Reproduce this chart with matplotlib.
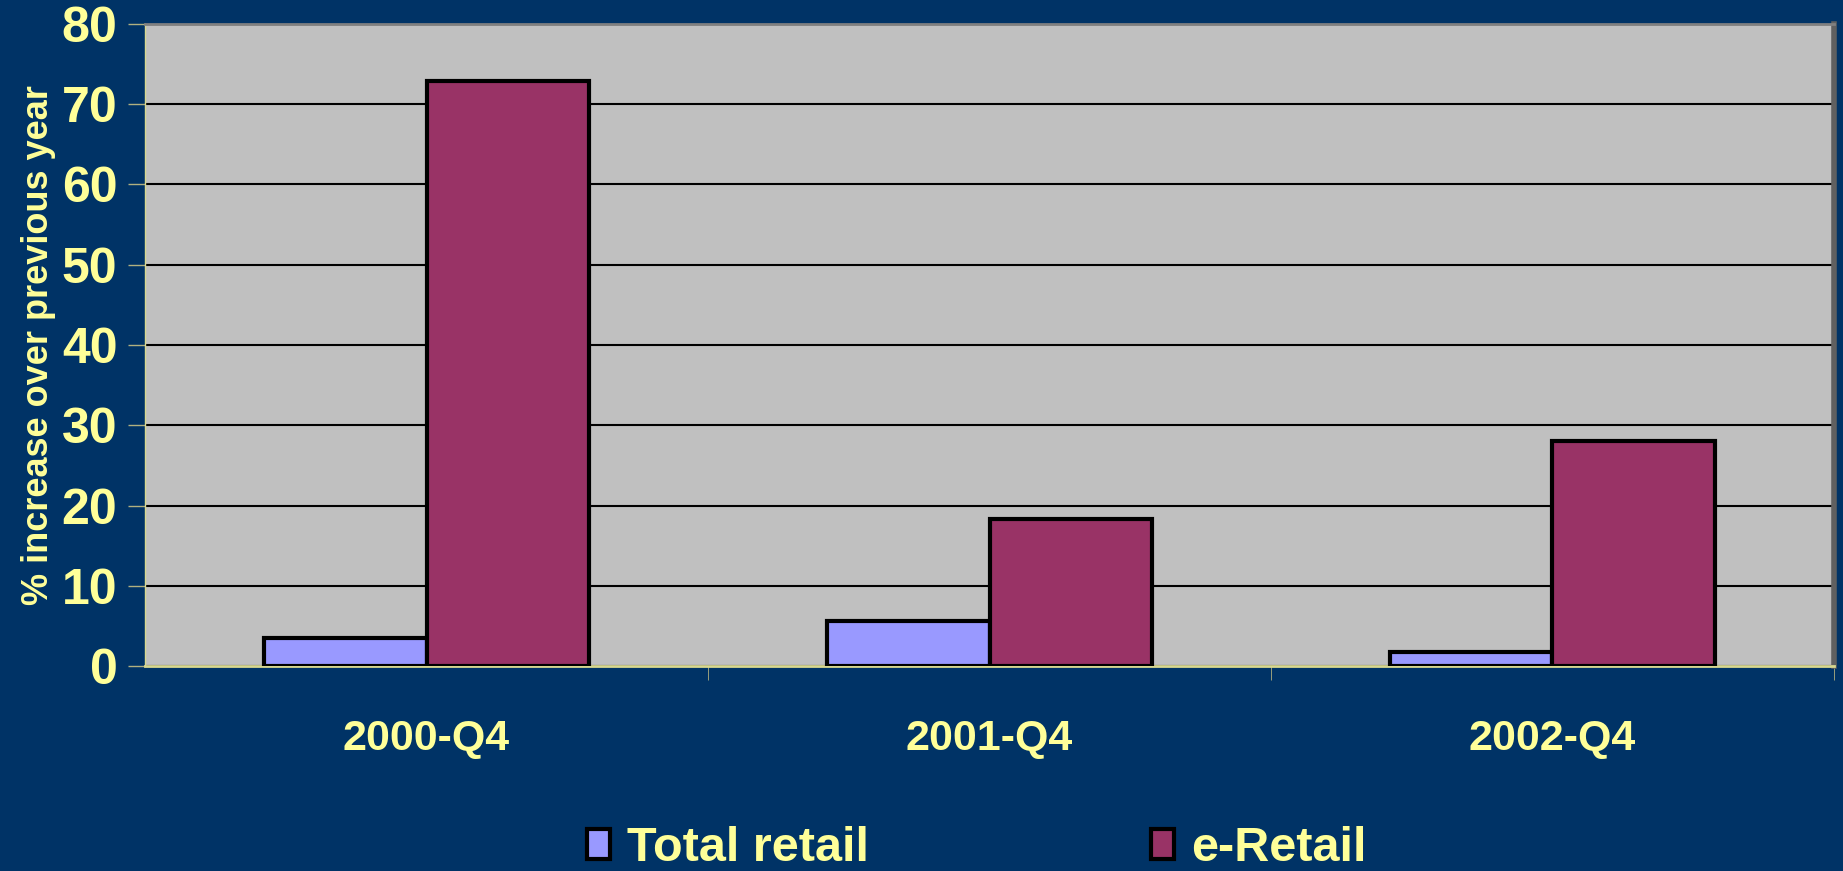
import numpy as np
import matplotlib.pyplot as plt
from matplotlib.ticker import FixedLocator

# data
quarters = ['2000-Q4', '2001-Q4', '2002-Q4']
total_retail = [3.5, 5.6, 1.8]
e_retail = [72.8, 18.4, 28.1]

navy = '#003366'
yellow = '#FFFF99'

plt.rcParams['font.family'] = ['Liberation Sans', 'DejaVu Sans']
plt.rcParams['font.weight'] = 'bold'

fig = plt.figure(figsize=(18.43, 8.71), dpi=100, facecolor=navy)
ax = fig.add_axes([0.0787, 0.2348, 0.9164, 0.7382])
ax.set_facecolor('#C0C0C0')

x = np.arange(len(quarters))
w = 0.288
ax.bar(x - w / 2, total_retail, w, color='#9999FF', edgecolor='black', linewidth=3,
       label='Total retail', zorder=3)
ax.bar(x + w / 2, e_retail, w, color='#993366', edgecolor='black', linewidth=3,
       label='e-Retail', zorder=3)

ax.set_xlim(-0.5, 2.5)
ax.set_ylim(0, 80)
ax.set_yticks(range(0, 81, 10))
ax.yaxis.grid(True, color='black', linewidth=1.5, zorder=1)

ax.set_xticks(x)
ax.set_xticklabels(quarters)
ax.xaxis.set_minor_locator(FixedLocator([0.5, 1.5, 2.5]))
ax.tick_params(axis='x', which='major', length=0, pad=38, labelsize=31, colors=yellow)
ax.tick_params(axis='x', which='minor', length=10, color='#B0B080', direction='out')
ax.tick_params(axis='y', length=12, width=1, color='#B0B080', pad=8,
               labelsize=36, labelcolor=yellow)

ax.spines['top'].set_color('#808080')
ax.spines['top'].set_linewidth(2)
ax.spines['right'].set_color('#606060')
ax.spines['right'].set_linewidth(4)
ax.spines['left'].set_color('#D8D890')
ax.spines['bottom'].set_color('#D8D890')
ax.spines['left'].set_linewidth(1)
ax.spines['bottom'].set_linewidth(2)

ax.set_ylabel('% increase over previous year', color=yellow, fontsize=26,
              fontweight='bold', labelpad=4)

leg = fig.legend(loc='lower center', bbox_to_anchor=(0.53, -0.05), ncol=2, frameon=False,
                 fontsize=35, handlelength=0.47, handleheight=0.58, handletextpad=0.35,
                 columnspacing=5.8)
for t in leg.get_texts():
    t.set_color(yellow)

fig.savefig('out.png', dpi=100, facecolor=navy)
